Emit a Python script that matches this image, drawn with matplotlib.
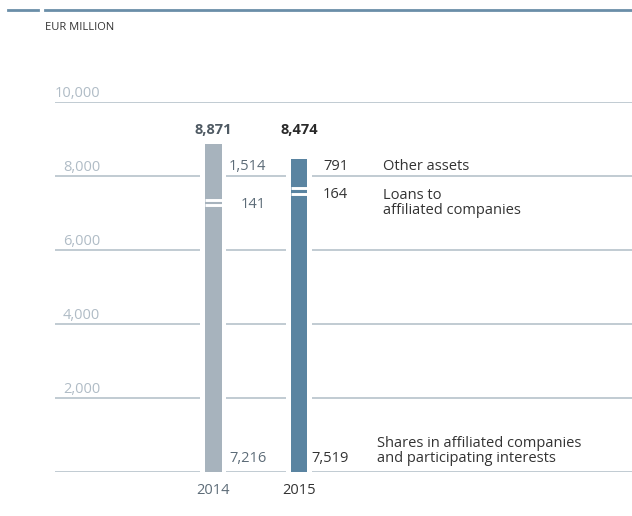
import numpy as np
import matplotlib
matplotlib.use('Agg')
import matplotlib.pyplot as plt

W, H = 632, 516

years = ['2014', '2015']
shares = [7216, 7519]
loans = [141, 164]
other = [1514, 791]
totals = [8871, 8474]
segment_names = ['Shares in affiliated companies\nand participating interests',
                 'Loans to\naffiliated companies',
                 'Other assets']
yticks = [2000, 4000, 6000, 8000, 10000]

bar_colors = ['#a7b3bd', '#5a84a1']
label_colors = ['#5d6c78', '#333333']
grid_c = '#b6c2cb'
tick_c = '#b0bcc6'
font = 'Open Sans'
plt.rcParams['font.family'] = [font, 'DejaVu Sans']

fig = plt.figure(figsize=(W / 100, H / 100), dpi=100)

def px(x, y):
    return x / W, 1 - y / H

# axes: x in pixels (55..632), y in EUR million
y0, y10 = 472.3, 102.3
ax = fig.add_axes([55 / W, (H - y0) / H, 1 - 55 / W, (y0 - y10) / H])
ax.set_xlim(55, 632)
ax.set_ylim(0, 10000)
ax.axis('off')

xc = [213.3, 299.0]
bw = 16.7

# gridlines
for v in [0] + yticks:
    ax.axhline(v, color=grid_c, lw=1.2, zorder=1)
for v in yticks:
    ax.text(100, v + 30, f'{v:,}', ha='right', va='bottom', color=tick_c, fontsize=10.5)

# bars
for i in range(2):
    # white gap breaking the gridlines
    ax.bar(xc[i], totals[i] + 200, bottom=-200, width=bw + 9, color='white', zorder=2)
    bottoms = [0, shares[i], shares[i] + loans[i]]
    vals = [shares[i], loans[i], other[i]]
    for b, v in zip(bottoms, vals):
        ax.bar(xc[i], v, bottom=b, width=bw, color=bar_colors[i], zorder=3, lw=0)
    for b in bottoms[1:]:
        ax.hlines(b, xc[i] - bw / 2, xc[i] + bw / 2, color='white', lw=2.1, zorder=4)
    fig.text(*px(xc[i], 130), f'{totals[i]:,}', ha='center', va='center',
             fontsize=10.5, fontweight='bold', color='#4f5a63' if i == 0 else '#2a2a2a')

# value labels
fs = 10.5
fig.text(*px(229, 166), f'{other[0]:,}', ha='left', va='center', color=label_colors[0], fontsize=fs)
fig.text(*px(241, 204), f'{loans[0]:,}', ha='left', va='center', color=label_colors[0], fontsize=fs)
fig.text(*px(229, 459), f'{shares[0]:,}', ha='left', va='center', color=label_colors[0], fontsize=fs)
fig.text(*px(323, 166), f'{other[1]:,}', ha='left', va='center', color=label_colors[1], fontsize=fs)
fig.text(*px(323, 195), f'{loans[1]:,}', ha='left', va='center', color=label_colors[1], fontsize=fs)
fig.text(*px(311, 459), f'{shares[1]:,}', ha='left', va='center', color=label_colors[1], fontsize=fs)

# segment names
fig.text(*px(383, 166), segment_names[2], ha='left', va='center', color='#333333', fontsize=fs)
fig.text(*px(383, 188), segment_names[1], ha='left', va='top', color='#333333', fontsize=fs,
         linespacing=1.0)
fig.text(*px(377, 451), segment_names[0], ha='left', va='center', color='#333333', fontsize=fs,
         linespacing=1.0)

# year labels
for i in range(2):
    fig.text(*px(xc[i], 491), years[i], ha='center', va='center', color=label_colors[i], fontsize=fs)

# header
fig.add_artist(plt.Line2D([8 / W, 38 / W], [1 - 10 / H] * 2, color='#6a8ea8', lw=2.0))
fig.add_artist(plt.Line2D([45 / W, 1], [1 - 10 / H] * 2, color='#6a8ea8', lw=2.0))
fig.text(*px(45, 28), 'EUR MILLION', ha='left', va='center', color='#333333', fontsize=8)

fig.savefig('out.png', dpi=100)
